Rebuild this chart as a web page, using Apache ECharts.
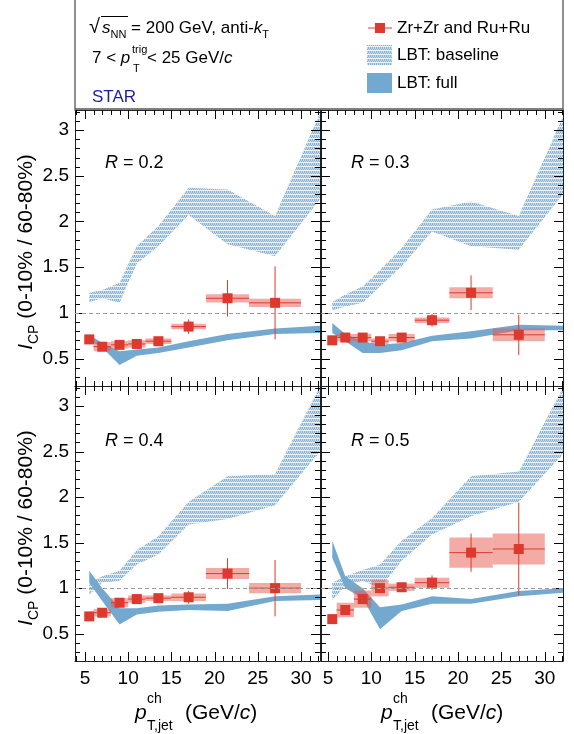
<!DOCTYPE html>
<html>
<head>
<meta charset="utf-8">
<script src="https://cdn.jsdelivr.net/npm/echarts@6/dist/echarts.min.js"></script>
<style>
  html, body { margin: 0; padding: 0; background: #fff; }
  #chart { width: 574px; height: 734px; }
</style>
</head>
<body>
<div id="chart"></div>
<script>
// jet pT bins (GeV/c)
const binLo = [5, 6, 8, 10, 12, 15, 19, 24];
const binHi = [6, 8, 10, 12, 15, 19, 24, 30];
const binCenter = [5.5, 7, 9, 11, 13.5, 17, 21.5, 27];

// STAR Zr+Zr and Ru+Ru I_CP
const icpR02 = [0.71, 0.63, 0.65, 0.66, 0.69, 0.85, 1.16, 1.11];
const statR02 = [0.02, 0.02, 0.02, 0.02, 0.02, 0.08, 0.20, 0.40];
const sysR02 = [0.04, 0.05, 0.04, 0.04, 0.03, 0.03, 0.045, 0.045];

const icpR03 = [0.70, 0.73, 0.73, 0.69, 0.73, 0.92, 1.22, 0.76];
const statR03 = [0.02, 0.02, 0.02, 0.02, 0.02, 0.07, 0.19, 0.22];
const sysR03 = [0.04, 0.04, 0.04, 0.03, 0.04, 0.03, 0.06, 0.07];

const icpR04 = [0.69, 0.73, 0.84, 0.88, 0.89, 0.90, 1.16, 1.00];
const statR04 = [0.02, 0.02, 0.02, 0.02, 0.02, 0.07, 0.17, 0.31];
const sysR04 = [0.04, 0.04, 0.05, 0.04, 0.03, 0.04, 0.06, 0.057];

const icpR05 = [0.66, 0.76, 0.88, 1.00, 1.01, 1.06, 1.39, 1.43];
const statR05 = [0.02, 0.02, 0.02, 0.02, 0.02, 0.08, 0.21, 0.51];
const sysR05 = [0.04, 0.08, 0.095, 0.09, 0.04, 0.055, 0.165, 0.17];

// LBT model bands
const lbtX = [5.5, 7, 9, 11, 13.5, 17, 21.5, 27, 32.2];

const baseHiR02 = [1.22, 1.25, 1.33, 1.73, 1.95, 2.37, 2.35, 2.06, 3.19];
const baseLoR02 = [1.12, 1.16, 1.11, 1.54, 1.73, 2.07, 1.75, 1.62, 2.24];
const fullHiR02 = [0.76, 0.67, 0.58, 0.60, 0.62, 0.69, 0.77, 0.83, 0.86];
const fullLoR02 = [0.70, 0.62, 0.43, 0.53, 0.56, 0.62, 0.70, 0.77, 0.78];

const baseHiR03 = [1.12, 1.20, 1.29, 1.47, 1.71, 2.13, 2.22, 2.06, 3.17];
const baseLoR03 = [1.03, 1.07, 1.11, 1.29, 1.51, 1.89, 1.73, 1.69, 2.31];
const fullHiR03 = [0.89, 0.77, 0.69, 0.65, 0.67, 0.75, 0.80, 0.87, 0.86];
const fullLoR03 = [0.78, 0.69, 0.56, 0.56, 0.59, 0.69, 0.72, 0.81, 0.81];

const baseHiR04 = [1.06, 1.13, 1.19, 1.42, 1.57, 1.95, 2.23, 2.25, 3.22];
const baseLoR04 = [0.93, 1.06, 1.08, 1.26, 1.37, 1.70, 1.76, 1.91, 2.50];
const fullHiR04 = [1.19, 1.00, 0.78, 0.78, 0.81, 0.82, 0.83, 0.91, 0.93];
const fullLoR04 = [1.06, 0.86, 0.60, 0.71, 0.74, 0.76, 0.75, 0.86, 0.87];

const baseHiR05 = [1.06, 1.13, 1.20, 1.26, 1.52, 1.77, 2.23, 2.28, 3.22];
const baseLoR05 = [0.87, 1.02, 1.08, 1.00, 1.30, 1.59, 1.79, 1.95, 2.48];
const fullHiR05 = [1.52, 1.13, 1.00, 0.79, 0.82, 0.91, 0.88, 0.97, 1.00];
const fullLoR05 = [1.33, 1.00, 0.89, 0.55, 0.75, 0.83, 0.83, 0.91, 0.95];

// ticks
const xMajorTicks = [5, 10, 15, 20, 25, 30];
const yMajorTicks = [0.5, 1, 1.5, 2, 2.5, 3];
const xMinorTicks = [];
for (let v = 4; v <= 32; v++) if (v % 5 !== 0) xMinorTicks.push(v);
const yMinorTicks = [];
for (let k = 2; k <= 32; k++) if (k % 5 !== 0) yMinorTicks.push(k / 10);

const panels = [
  { r: '0.2', icp: icpR02, stat: statR02, sys: sysR02, baseLo: baseLoR02, baseHi: baseHiR02, fullLo: fullLoR02, fullHi: fullHiR02 },
  { r: '0.3', icp: icpR03, stat: statR03, sys: sysR03, baseLo: baseLoR03, baseHi: baseHiR03, fullLo: fullLoR03, fullHi: fullHiR03 },
  { r: '0.4', icp: icpR04, stat: statR04, sys: sysR04, baseLo: baseLoR04, baseHi: baseHiR04, fullLo: fullLoR04, fullHi: fullHiR04 },
  { r: '0.5', icp: icpR05, stat: statR05, sys: sysR05, baseLo: baseLoR05, baseHi: baseHiR05, fullLo: fullLoR05, fullHi: fullHiR05 }
];

const layout = [
  { left: 75, top: 110, width: 245, height: 276, xMin: 3.85, xMax: 32.2, showX: false, showY: true },
  { left: 321, top: 110, width: 242, height: 276, xMin: 4.2, xMax: 32.1, showX: false, showY: false },
  { left: 75, top: 386, width: 245, height: 275, xMin: 3.85, xMax: 32.2, showX: true, showY: true },
  { left: 321, top: 386, width: 242, height: 275, xMin: 4.2, xMax: 32.1, showX: true, showY: false }
];
const yMin = 0.2, yMax = 3.22;

const FONT = 'Liberation Sans, Arial, sans-serif';
const RED = '#dc3a2e';
const FULL_BLUE = '#74a9cf';
const AXIS = '#222';

function makeHatch() {
  const c = document.createElement('canvas');
  c.width = 4; c.height = 4;
  const ctx = c.getContext('2d');
  ctx.fillStyle = '#c6dcee';
  ctx.fillRect(0, 0, 4, 4);
  ctx.fillStyle = '#82b3d6';
  [[0, 0], [2, 0], [1, 1], [3, 1], [0, 3], [2, 3]].forEach(p => ctx.fillRect(p[0], p[1], 1, 1));
  ctx.fillStyle = '#e9f2f9';
  ctx.fillRect(0, 2, 4, 1);
  return c;
}
const hatch = { image: makeHatch(), repeat: 'repeat' };

function axisSet(kind, g, L) {
  const isX = kind === 'x';
  const sides = isX ? ['bottom', 'top'] : ['left', 'right'];
  const showLab = isX ? L.showX : L.showY;
  return sides.map((side, si) => ({
    type: 'value',
    gridIndex: g,
    position: side,
    min: isX ? L.xMin : yMin,
    max: isX ? L.xMax : yMax,
    axisLine: { show: true, onZero: false, lineStyle: { color: AXIS, width: 1 } },
    axisTick: { show: false },
    axisLabel: {
      show: si === 0 && showLab,
      customValues: isX ? xMajorTicks : yMajorTicks,
      color: '#000', fontFamily: FONT, fontSize: 19,
      margin: isX ? 8 : 6,
      formatter: v => String(v)
    },
    splitLine: { show: false }
  }));
}

const grid = [], xAxis = [], yAxis = [], series = [];
layout.forEach((L, g) => {
  grid.push({ left: L.left, top: L.top, width: L.width, height: L.height, containLabel: false });
  xAxis.push(...axisSet('x', g, L));
  yAxis.push(...axisSet('y', g, L));
});

function bandRender(rows, fill) {
  return function (params, api) {
    if (params.dataIndex !== 0) return null;
    const top = rows.map(r => api.coord([r[0], r[2]]));
    const bot = rows.map(r => api.coord([r[0], r[1]])).reverse();
    return { type: 'polygon', shape: { points: top.concat(bot) }, style: { fill: fill } };
  };
}

// inward ticks on all four sides of a panel, placed through its scales
function tickLines(L, api) {
  const c0 = api.coord([L.xMin, yMin]);   // bottom-left
  const c1 = api.coord([L.xMax, yMax]);   // top-right
  const out = [];
  const add = (x1, y1, x2, y2) => out.push({
    type: 'line', shape: { x1: x1, y1: y1, x2: x2, y2: y2 }, style: { stroke: '#000', lineWidth: 1 }
  });
  const xt = xMajorTicks.map(v => [v, 9]).concat(xMinorTicks.filter(v => v > L.xMin && v < L.xMax).map(v => [v, 5]));
  const yt = yMajorTicks.map(v => [v, 9]).concat(yMinorTicks.filter(v => v > yMin && v < yMax).map(v => [v, 5]));
  xt.forEach(t => {
    const px = Math.round(api.coord([t[0], 1])[0]) + 0.5;
    add(px, c0[1], px, c0[1] - t[1]);
    add(px, c1[1], px, c1[1] + t[1]);
  });
  yt.forEach(t => {
    const py = Math.round(api.coord([10, t[0]])[1]) + 0.5;
    add(c0[0], py, c0[0] + t[1], py);
    add(c1[0], py, c1[0] - t[1], py);
  });
  return out;
}

function pointRender(L) {
  return function (params, api) {
    const x = api.value(0), y = api.value(1), lo = api.value(2), hi = api.value(3);
    const st = api.value(4), sy = api.value(5);
    const bl = api.coord([lo, y - sy]), tr = api.coord([hi, y + sy]);
    const c = api.coord([x, y]);
    const s1 = api.coord([x, y + st]), s2 = api.coord([x, y - st]);
    const h1 = api.coord([lo, y]), h2 = api.coord([hi, y]);
    const kids = [
      { type: 'rect', shape: { x: bl[0], y: tr[1], width: tr[0] - bl[0], height: bl[1] - tr[1] }, style: { fill: 'rgba(232,88,78,0.5)' } },
      { type: 'line', shape: { x1: h1[0], y1: h1[1], x2: h2[0], y2: h2[1] }, style: { stroke: RED, lineWidth: 1 } },
      { type: 'line', shape: { x1: s1[0], y1: s1[1], x2: s2[0], y2: s2[1] }, style: { stroke: RED, lineWidth: 1 } },
      { type: 'rect', shape: { x: c[0] - 5, y: c[1] - 5, width: 10, height: 10 }, style: { fill: RED } }
    ];
    return { type: 'group', children: params.dataIndex === 0 ? kids.concat(tickLines(L, api)) : kids };
  };
}

panels.forEach((P, g) => {
  const L = layout[g];
  const xi = g * 2, yi = g * 2;
  const baseRows = lbtX.map((x, i) => [x, P.baseLo[i], P.baseHi[i]]);
  const fullRows = lbtX.map((x, i) => [x, P.fullLo[i], P.fullHi[i]]);
  series.push({
    type: 'custom', name: 'LBT: baseline', xAxisIndex: xi, yAxisIndex: yi, clip: true, z: 1,
    data: baseRows, renderItem: bandRender(baseRows, hatch), silent: true
  });
  series.push({
    type: 'line', xAxisIndex: xi, yAxisIndex: yi, data: [], z: 2, silent: true,
    markLine: {
      silent: true, symbol: 'none', label: { show: false },
      lineStyle: { type: [4, 3], color: '#9a9a9a', width: 1 },
      data: [{ yAxis: 1 }]
    }
  });
  series.push({
    type: 'custom', name: 'LBT: full', xAxisIndex: xi, yAxisIndex: yi, clip: true, z: 3,
    data: fullRows, renderItem: bandRender(fullRows, FULL_BLUE), silent: true
  });
  series.push({
    type: 'custom', name: 'Zr+Zr and Ru+Ru', xAxisIndex: xi, yAxisIndex: yi, z: 4,
    data: binCenter.map((x, i) => [x, P.icp[i], binLo[i], binHi[i], P.stat[i], P.sys[i]]),
    renderItem: pointRender(L)
  });
});

const RICH17 = {
  n: { fontSize: 17, fontFamily: FONT, lineHeight: 24, verticalAlign: 'middle' },
  i: { fontSize: 17, fontFamily: FONT, fontStyle: 'italic', lineHeight: 24, verticalAlign: 'middle' },
  sub: { fontSize: 11, fontFamily: FONT, lineHeight: 11, verticalAlign: 'bottom' }
};
const RICH21 = {
  n: { fontSize: 21, fontFamily: FONT, lineHeight: 30, verticalAlign: 'middle' },
  i: { fontSize: 21, fontFamily: FONT, fontStyle: 'italic', lineHeight: 30, verticalAlign: 'middle' },
  sub: { fontSize: 14, fontFamily: FONT, lineHeight: 14, verticalAlign: 'bottom' }
};

function txt(x, y, text, size, extra) {
  return {
    type: 'text', x: x, y: y, z: 10,
    style: Object.assign({ text: text, fontFamily: FONT, fontSize: size, fill: '#000', textVerticalAlign: 'middle' }, extra || {})
  };
}
function ital(x, y, text, size) {
  return txt(x, y, text, size, { fontStyle: 'italic' });
}

const graphic = [
  // header box
  { type: 'rect', shape: { x: 75, y: -2, width: 488, height: 111 }, style: { fill: 'none', stroke: '#555', lineWidth: 1.3 }, z: 10 },
  // sqrt(s_NN), anti-kT
  txt(89, 27, '\u221A', 20),
  { type: 'line', shape: { x1: 101, y1: 16.5, x2: 128, y2: 16.5 }, style: { stroke: '#000', lineWidth: 1 }, z: 10 },
  txt(102, 28, '{i|s}{sub|NN}{n| = 200 GeV, anti-}{i|k}{sub|T}', 17, { rich: RICH17 }),
  // trigger range
  txt(92, 58, '{n|7 < }{i|p}', 17, { rich: RICH17 }),
  txt(132, 50, 'trig', 11),
  txt(133, 69, 'T', 11),
  txt(147, 58, '{n|< 25 GeV/}{i|c}', 17, { rich: RICH17 }),
  txt(92, 97, 'STAR', 17, { fill: '#1b1ba6' }),
  // legend
  { type: 'line', shape: { x1: 368, y1: 28, x2: 392, y2: 28 }, style: { stroke: RED, lineWidth: 1 }, z: 10 },
  { type: 'rect', shape: { x: 375, y: 23, width: 10, height: 10 }, style: { fill: RED }, z: 10 },
  txt(397, 28, 'Zr+Zr and Ru+Ru', 17),
  { type: 'rect', shape: { x: 367, y: 45, width: 25, height: 20 }, style: { fill: hatch }, z: 10 },
  txt(397, 55, 'LBT: baseline', 17),
  { type: 'rect', shape: { x: 367, y: 73, width: 25, height: 20 }, style: { fill: FULL_BLUE }, z: 10 },
  txt(397, 83, 'LBT: full', 17)
];

// R labels
const rPos = [[105, 163], [351, 163], [105, 441], [351, 441]];
panels.forEach((P, g) => {
  graphic.push(txt(rPos[g][0], rPos[g][1], '{i|R}{n| = ' + P.r + '}', 18, {
    rich: { i: { fontStyle: 'italic', fontSize: 18, fontFamily: FONT }, n: { fontSize: 18, fontFamily: FONT } }
  }));
});

// y titles
[252, 528].forEach(cy => {
  graphic.push({
    type: 'text', x: 26, y: cy, rotation: Math.PI / 2, z: 10,
    style: {
      text: '{i|I}{sub|CP}{n| (0-10% / 60-80%)}',
      fontFamily: FONT, fontSize: 21, fill: '#000', textAlign: 'center', textVerticalAlign: 'middle',
      rich: RICH21
    }
  });
});

// x titles
[135, 381].forEach(x0 => {
  graphic.push(ital(x0, 713, 'p', 21));
  graphic.push(txt(x0 + 12, 699, 'ch', 14));
  graphic.push(txt(x0 + 12, 726, 'T,jet', 14));
  graphic.push(txt(x0 + 50, 713, '{n|(GeV/}{i|c}{n|)}', 21, { rich: RICH21 }));
});

const chart = echarts.init(document.getElementById('chart'), null, { renderer: 'canvas' });
chart.setOption({
  animation: false,
  backgroundColor: '#fff',
  grid: grid,
  xAxis: xAxis,
  yAxis: yAxis,
  series: series,
  graphic: graphic
});
</script>
</body>
</html>
